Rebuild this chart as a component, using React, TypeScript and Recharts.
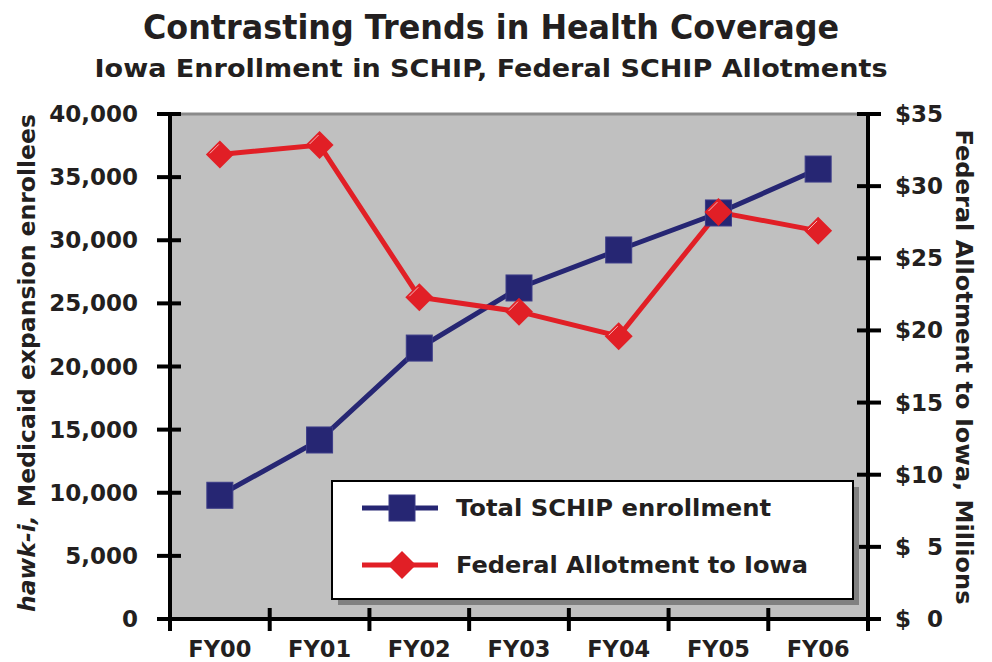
import React from "react";
import {
  ComposedChart,
  Line,
  XAxis,
  YAxis,
  ReferenceArea,
  ReferenceLine,
  Legend,
  Customized,
} from "recharts";

const categories = ["FY00", "FY01", "FY02", "FY03", "FY04", "FY05", "FY06"];
const enrollment = [9800, 14180, 21460, 26220, 29230, 32160, 35640];
const allotment = [32.2, 32.85, 22.3, 21.3, 19.6, 28.2, 26.9];
const leftTicks = [0, 5000, 10000, 15000, 20000, 25000, 30000, 35000, 40000];
const rightTicks = [0, 5, 10, 15, 20, 25, 30, 35];

const data = categories.map((c, i) => ({
  year: c,
  enrollment: enrollment[i],
  allotment: allotment[i],
}));

const FONT = "'DejaVu Sans', Verdana, sans-serif";
const TXT = "#231f20";
const BLUE = "#262673";
const RED = "#e11f26";

const LeftTick = (props: any) => {
  const { x, y, payload } = props;
  return (
    <g>
      <line x1={x - 13} x2={x + 11} y1={y} y2={y} stroke="#000" strokeWidth={4} />
      <text
        x={x - 32}
        y={y}
        textAnchor="end"
        dominantBaseline="central"
        fontFamily={FONT}
        fontWeight="bold"
        fontSize={23}
        fill={TXT}
      >
        {Number(payload.value).toLocaleString("en-US")}
      </text>
    </g>
  );
};

const RightTick = (props: any) => {
  const { x, y, payload } = props;
  const v = Number(payload.value);
  const label = v < 10 ? `$\u2007${v}` : `$${v}`;
  return (
    <g>
      <line x1={x - 11} x2={x + 13} y1={y} y2={y} stroke="#000" strokeWidth={4} />
      <text
        x={x + 27}
        y={y}
        textAnchor="start"
        dominantBaseline="central"
        fontFamily={FONT}
        fontWeight="bold"
        fontSize={23}
        fill={TXT}
      >
        {label}
      </text>
    </g>
  );
};

const XTick = (props: any) => {
  const { x, y, payload, index } = props;
  const off = payload && typeof payload.offset === "number" && payload.offset > 0 ? payload.offset : 49.86;
  return (
    <g>
      {index === 0 && (
        <line x1={x - off} x2={x - off} y1={y - 11} y2={y + 12} stroke="#000" strokeWidth={4} />
      )}
      <line x1={x + off} x2={x + off} y1={y - 11} y2={y + 12} stroke="#000" strokeWidth={4} />
      <text
        x={x}
        y={y + 30}
        textAnchor="middle"
        dominantBaseline="central"
        fontFamily={FONT}
        fontWeight="bold"
        fontSize={23}
        fill={TXT}
        textLength={63}
        lengthAdjust="spacingAndGlyphs"
      >
        {payload.value}
      </text>
    </g>
  );
};

const SquareDot = (props: any) => {
  const { cx, cy } = props;
  if (cx == null || cy == null) return null;
  return (
    <rect x={cx - 13} y={cy - 13} width={26} height={26} fill={BLUE} stroke="#3c3c88" strokeWidth={1} />
  );
};

const DiamondDot = (props: any) => {
  const { cx, cy } = props;
  if (cx == null || cy == null) return null;
  const r = 14;
  return (
    <g>
      <polygon
        points={`${cx},${cy - r} ${cx + r},${cy} ${cx},${cy + r} ${cx - r},${cy}`}
        fill={RED}
      />
      <line x1={cx - r + 4} y1={cy - 1} x2={cx - 1} y2={cy - r + 4} stroke="#f5b5b5" strokeWidth={1} />
    </g>
  );
};

const LegendContent = () => (
  <svg width={532} height={126} style={{ display: "block" }}>
    <rect x={7} y={7} width={521} height={118} fill="#808080" />
    <rect x={1} y={1} width={521} height={118} fill="#fff" stroke="#000" strokeWidth={2} />
    <line x1={31} x2={107} y1={28} y2={28} stroke={BLUE} strokeWidth={5} />
    <rect x={58} y={15} width={26} height={26} fill={BLUE} stroke="#3c3c88" strokeWidth={1} />
    <text
      x={125}
      y={28}
      dominantBaseline="central"
      fontFamily={FONT}
      fontWeight="bold"
      fontSize={23}
      fill={TXT}
      textLength={315}
      lengthAdjust="spacingAndGlyphs"
    >
      Total SCHIP enrollment
    </text>
    <line x1={31} x2={107} y1={85} y2={85} stroke={RED} strokeWidth={5} />
    <polygon points="71,71 85,85 71,99 57,85" fill={RED} />
    <text
      x={125}
      y={85}
      dominantBaseline="central"
      fontFamily={FONT}
      fontWeight="bold"
      fontSize={23}
      fill={TXT}
      textLength={352}
      lengthAdjust="spacingAndGlyphs"
    >
      Federal Allotment to Iowa
    </text>
  </svg>
);

const Titles = () => (
  <g>
    <text
      x={491}
      y={39}
      textAnchor="middle"
      fontFamily={FONT}
      fontWeight="bold"
      fontSize={33}
      fill={TXT}
      textLength={696}
      lengthAdjust="spacingAndGlyphs"
    >
      Contrasting Trends in Health Coverage
    </text>
    <text
      x={491}
      y={77}
      textAnchor="middle"
      fontFamily={FONT}
      fontWeight="bold"
      fontSize={24}
      fill={TXT}
      textLength={793}
      lengthAdjust="spacingAndGlyphs"
    >
      Iowa Enrollment in SCHIP, Federal SCHIP Allotments
    </text>
    <text
      transform="translate(27,363) rotate(-90)"
      textAnchor="middle"
      dominantBaseline="central"
      fontFamily={FONT}
      fontWeight="bold"
      fontSize={23}
      fill={TXT}
      textLength={498}
      lengthAdjust="spacingAndGlyphs"
    >
      <tspan fontStyle="italic">hawk-i,</tspan> Medicaid expansion enrollees
    </text>
    <text
      transform="translate(964,367) rotate(90)"
      textAnchor="middle"
      dominantBaseline="central"
      fontFamily={FONT}
      fontWeight="bold"
      fontSize={23}
      fill={TXT}
      textLength={475}
      lengthAdjust="spacingAndGlyphs"
    >
      Federal Allotment to Iowa, Millions
    </text>
  </g>
);

export default function App() {
  return (
    <div style={{ position: "absolute", left: 0, top: 0, width: 992, height: 662, background: "#fff" }}>
      <ComposedChart
        width={992}
        height={662}
        data={data}
        margin={{ top: 114, right: 0, bottom: 0, left: 0 }}
      >
        <ReferenceArea yAxisId="left" y1={0} y2={40000} fill="#c0c0c0" fillOpacity={1} stroke="none" />
        <ReferenceLine yAxisId="left" y={40000} stroke="#8a8a8a" strokeWidth={3} />
        <XAxis
          dataKey="year"
          scale="band"
          height={43}
          tickSize={0}
          tickMargin={0}
          tickLine={false}
          axisLine={{ stroke: "#000", strokeWidth: 4 }}
          tick={<XTick />}
          interval={0}
        />
        <YAxis
          yAxisId="left"
          orientation="left"
          width={170}
          domain={[0, 40000]}
          ticks={leftTicks}
          tickSize={0}
          tickMargin={0}
          tickLine={false}
          axisLine={{ stroke: "#000", strokeWidth: 4 }}
          tick={<LeftTick />}
          interval={0}
        />
        <YAxis
          yAxisId="right"
          orientation="right"
          width={124}
          domain={[0, 35]}
          ticks={rightTicks}
          tickSize={0}
          tickMargin={0}
          tickLine={false}
          axisLine={{ stroke: "#000", strokeWidth: 4 }}
          tick={<RightTick />}
          interval={0}
        />
        <Line
          yAxisId="left"
          dataKey="enrollment"
          name="Total SCHIP enrollment"
          stroke={BLUE}
          strokeWidth={5}
          dot={<SquareDot />}
          activeDot={false}
          isAnimationActive={false}
        />
        <Line
          yAxisId="right"
          dataKey="allotment"
          name="Federal Allotment to Iowa"
          stroke={RED}
          strokeWidth={5}
          dot={<DiamondDot />}
          activeDot={false}
          isAnimationActive={false}
        />
        <Legend
          layout="vertical"
          align="center"
          verticalAlign="middle"
          content={<LegendContent />}
          wrapperStyle={{ position: "absolute", left: 331, top: 480, width: 532, height: 126, margin: 0, padding: 0 }}
        />
        <Customized component={<Titles />} />
      </ComposedChart>
    </div>
  );
}
